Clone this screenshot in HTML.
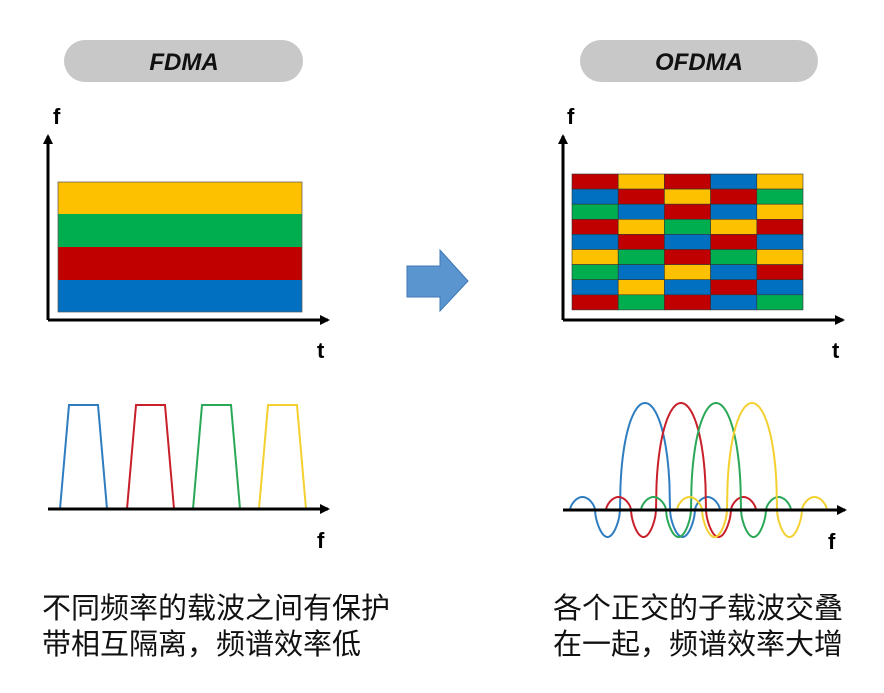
<!DOCTYPE html>
<html><head><meta charset="utf-8"><style>
body{margin:0;background:#fff;}
svg{display:block}
.t{font-family:"Liberation Sans","Noto Sans CJK SC",sans-serif;}
</style></head><body>
<svg width="884" height="693" viewBox="0 0 884 693" xmlns="http://www.w3.org/2000/svg">
<defs><marker id="ar" markerWidth="10" markerHeight="10" refX="8" refY="5" orient="auto" markerUnits="userSpaceOnUse"><path d="M0,0 L10,5 L0,10 Z" fill="#000"/></marker></defs>
<rect x="64" y="40" width="239" height="42" rx="21" fill="#c8c8c8"/>
<text x="184" y="70" text-anchor="middle" class="t" font-size="24" font-weight="bold" font-style="italic" fill="#111">FDMA</text>
<rect x="580" y="40" width="238" height="42" rx="21" fill="#c8c8c8"/>
<text x="699" y="70" text-anchor="middle" class="t" font-size="24" font-weight="bold" font-style="italic" fill="#111">OFDMA</text>
<rect x="58" y="182" width="244" height="32" fill="#fdc100"/>
<rect x="58" y="214" width="244" height="33" fill="#00ae50"/>
<rect x="58" y="247" width="244" height="33" fill="#c00000"/>
<rect x="58" y="280" width="244" height="32" fill="#0170c1"/>
<rect x="58" y="182" width="244" height="130" fill="none" stroke="#555" stroke-width="0.7"/>
<line x1="48" y1="320" x2="48" y2="136" stroke="#000" stroke-width="3" marker-end="url(#ar)"/>
<line x1="48" y1="320" x2="328" y2="320" stroke="#000" stroke-width="3" marker-end="url(#ar)"/>
<text x="53" y="124" class="t" font-size="22" font-weight="bold">f</text>
<text x="317" y="358" class="t" font-size="22" font-weight="bold">t</text>
<g id="grid" stroke="#333" stroke-width="0.6"></g>
<line x1="563" y1="320" x2="563" y2="136" stroke="#000" stroke-width="3" marker-end="url(#ar)"/>
<line x1="563" y1="320" x2="843" y2="320" stroke="#000" stroke-width="3" marker-end="url(#ar)"/>
<text x="567" y="124" class="t" font-size="22" font-weight="bold">f</text>
<text x="832" y="358" class="t" font-size="22" font-weight="bold">t</text>
<path d="M407,266 L440,266 L440,250 L468,281 L440,311 L440,297 L407,297 Z" fill="#5b95d0" stroke="#3f78b4" stroke-width="1"/>
<g fill="none" stroke-width="2">
<path d="M60,509 L69,405 L98,405 L107,509" stroke="#2e7dc0"/>
<path d="M127,509 L136,405 L165,405 L174,509" stroke="#c8202a"/>
<path d="M193,509 L202,405 L231,405 L240,509" stroke="#2aa858"/>
<path d="M259,509 L268,405 L297,405 L306,509" stroke="#f4d030"/>
</g>
<line x1="48" y1="509" x2="328" y2="509" stroke="#000" stroke-width="3" marker-end="url(#ar)"/>
<text x="317" y="548" class="t" font-size="22" font-weight="bold">f</text>
<g id="sinc" fill="none" stroke-width="2"></g>
<line x1="563" y1="510" x2="845" y2="510" stroke="#000" stroke-width="3" marker-end="url(#ar)"/>
<text x="828" y="549" class="t" font-size="22" font-weight="bold">f</text>
<text class="t" font-size="29" fill="#111"><tspan x="42" y="618">不同频率的载波之间有保护</tspan><tspan x="42" y="654">带相互隔离，频谱效率低</tspan></text>
<text class="t" font-size="29" fill="#111"><tspan x="553" y="618">各个正交的子载波交叠</tspan><tspan x="553" y="654">在一起，频谱效率大增</tspan></text>
</svg>
<script>
var C={R:"#c00000",Y:"#fdc100",B:"#0170c1",G:"#00ae50"};
var rows=["RYRBY","BRYRG","GBRBY","RYGYR","BRBRB","YGRGY","GBYBR","BYBRB","RGRBG"];
var g=document.getElementById("grid"),ns="http://www.w3.org/2000/svg";
var x0=572,y0=174,w=46.2,h=15.1;
rows.forEach(function(r,i){for(var j=0;j<5;j++){var e=document.createElementNS(ns,"rect");
e.setAttribute("x",x0+j*w);e.setAttribute("y",y0+i*h);e.setAttribute("width",w);e.setAttribute("height",h);e.setAttribute("fill",C[r[j]]);g.appendChild(e);}});
var s=document.getElementById("sinc");
function f(x){var a=Math.abs(x);if(a<25){return 107*Math.pow(1-Math.pow(a/25,2),0.45);}
var k=Math.floor(a/25),fr=(a-25*k)/25;var amp=k==1?27:(k==2?13:0);var sg=k%2?-1:1;
return sg*amp*Math.pow(Math.sin(Math.PI*fr),0.6);}
[[645,"#2e7dc0"],[681,"#c8202a"],[716,"#2aa858"],[752,"#f4d030"]].forEach(function(c){
var d="";for(var x=-75;x<=75;x+=0.5){d+=(x==-75?"M":"L")+(c[0]+x)+","+(510-f(x)).toFixed(1);}
var p=document.createElementNS(ns,"path");p.setAttribute("d",d);p.setAttribute("stroke",c[1]);s.appendChild(p);});
</script>
</body></html>
